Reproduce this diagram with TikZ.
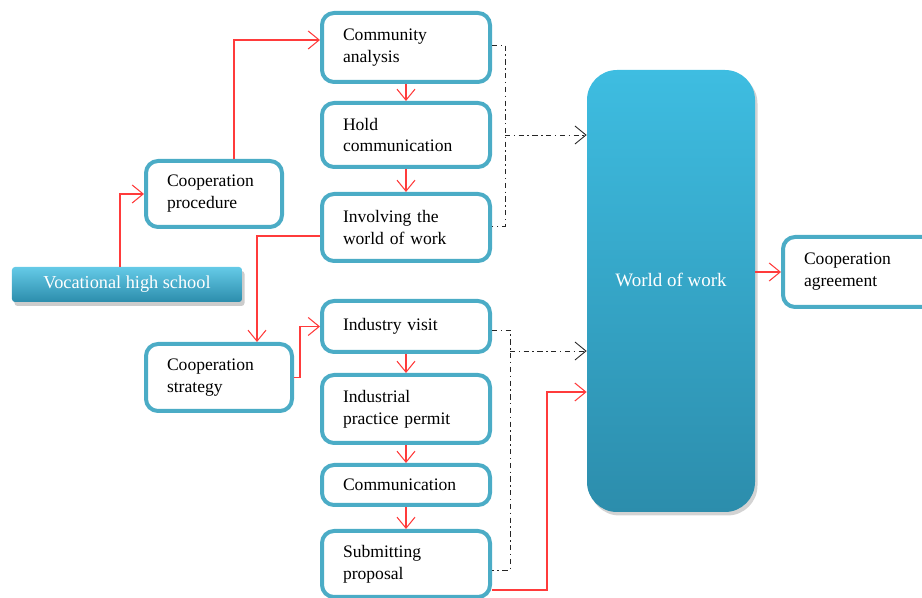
\documentclass[tikz,border=0pt]{standalone}
\usepackage{fontspec}
\setmainfont{Liberation Serif}
\usetikzlibrary{arrows.meta,shadows}

\definecolor{boxblue}{HTML}{4BACC6}
\definecolor{linered}{HTML}{FF3B3B}
\definecolor{worldtop}{HTML}{3EBDE1}
\definecolor{worldbottom}{HTML}{2C8DAC}

\begin{document}
\begin{tikzpicture}[
            stagebox/.style={draw=boxblue, line width=0.08cm, rounded corners=0.24cm, fill=white,
                align=left, inner xsep=0.42cm, inner ysep=0pt, text width=2.52cm,
                font=\fontsize{10}{12.5}\selectfont},
            sidebox/.style={stagebox, text width=#1},
            bigbox/.style={rounded corners=0.6cm, top color=worldtop, bottom color=worldbottom,
                drop shadow={opacity=0.35, shadow xshift=0.05cm, shadow yshift=-0.07cm},
                minimum width=3.36cm, minimum height=8.84cm},
            schoolbox/.style={rounded corners=0.06cm, top color=worldtop!80!white, bottom color=worldbottom,
                drop shadow={opacity=0.4, shadow xshift=0.05cm, shadow yshift=-0.08cm},
                minimum width=4.6cm, minimum height=0.7cm, text=white,
                font=\fontsize{10.4}{12.5}\selectfont},
            redline/.style={draw=linered, line width=0.6pt, -{Straight Barb[length=0.22cm, width=0.36cm]}},
            dashline/.style={draw=black!85, line width=0.5pt, dash pattern=on 3pt off 2pt on 0.8pt off 2pt},
            dasharrow/.style={dashline, -{Straight Barb[length=0.22cm, width=0.36cm]}}
        ]
            \useasboundingbox (0,0) rectangle (18.44,-11.96);

            % first column of steps
            \node[stagebox, minimum height=1.38cm] (comm) at (8.12, -0.95) {Community\\analysis};
            \node[stagebox, minimum height=1.28cm] (hold) at (8.12, -2.70) {Hold\\communication};
            \node[stagebox, minimum height=1.34cm] (inv) at (8.12, -4.55) {Involving the\\world of work};

            % second column of steps
            \node[stagebox, minimum height=1.02cm] (visit) at (8.12, -6.53) {Industry visit};
            \node[stagebox, minimum height=1.36cm] (permit) at (8.12, -8.18) {Industrial\\practice permit};
            \node[stagebox, minimum height=0.80cm] (commu) at (8.12, -9.70) {Communication};
            \node[stagebox, minimum height=1.32cm] (sub) at (8.12, -11.28) {Submitting\\proposal};

            % left side
            \node[schoolbox] (voc) at (2.54, -5.69) {Vocational high school};
            \node[sidebox=1.88cm, minimum height=1.32cm] (proc) at (4.28, -3.88) {Cooperation\\procedure};
            \node[sidebox=2.08cm, minimum height=1.34cm] (strat) at (4.38, -7.55) {Cooperation\\strategy};

            % right side
            \node[bigbox, label={[text=white, yshift=0.22cm, font=\fontsize{10.8}{12.5}\selectfont]center:World of work}] (world) at (13.42, -5.82) {};
            \node[sidebox=2.2cm, minimum height=1.40cm, anchor=west] (agree) at (15.62, -5.44) {Cooperation\\agreement};

            % red flow
            \draw[redline] ([xshift=-0.14cm]voc.north) |- (proc.west);
            \draw[redline] ([xshift=0.4cm]proc.north) |- ([yshift=0.15cm]comm.west);
            \draw[redline] (comm.south) -- (hold.north);
            \draw[redline] (hold.south) -- (inv.north);
            \draw[redline] ([yshift=-0.17cm]inv.west) -| ([xshift=0.76cm]strat.north);
            \draw[redline] (strat.east) -- ++(0.12,0) |- (visit.west);
            \draw[redline] (visit.south) -- (permit.north);
            \draw[redline] (permit.south) -- (commu.north);
            \draw[redline] (commu.south) -- (sub.north);
            \draw[redline] ([yshift=-0.52cm]sub.east) -- ++(1.1,0) |- ([yshift=-2.02cm]world.west);
            \draw[redline] (world.east |- agree.west) -- (agree.west);

            % dash-dot brackets into the world of work
            \draw[dashline] ([yshift=0.05cm]comm.east) -| ([xshift=0.26cm]hold.east) |- ([yshift=0.03cm]inv.east);
            \draw[dasharrow] ([xshift=0.26cm]hold.east) -- (world.west |- hold.east);
            \coordinate (vbend) at ([xshift=0.36cm, yshift=-0.49cm]visit.east);
            \draw[dashline] ([yshift=-0.07cm]visit.east) -| (vbend) |- ([yshift=-0.12cm]sub.east);
            \draw[dasharrow] (vbend) -- (world.west |- vbend);

        \end{tikzpicture}
\end{document}
